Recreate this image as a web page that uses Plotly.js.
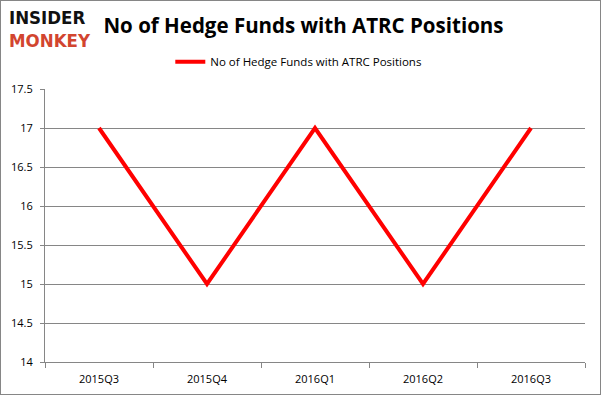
<!DOCTYPE html>
<html>
<head>
<meta charset="utf-8">
<script src="https://cdn.plot.ly/plotly-3.0.1.min.js"></script>
<style>
html,body{margin:0;padding:0;background:#fff;}
#chart{width:601px;height:395px;box-sizing:border-box;border:1px solid #868686;}
</style>
</head>
<body>
<div id="chart"></div>
<script>
const quarters = ["2015Q3","2015Q4","2016Q1","2016Q2","2016Q3"];
const hedgeFunds = [17, 15, 17, 15, 17];
const seriesName = "No of Hedge Funds with ATRC Positions";
const titleText = "No of Hedge Funds with ATRC Positions";

const font = "Open Sans, Liberation Sans, sans-serif";
const trace = {
  x: quarters, y: hedgeFunds, type: "scatter", mode: "lines",
  name: seriesName,
  line: {color: "#ff0000", width: 4}
};
const layout = {
  width: 599, height: 393,
  margin: {l: 44, r: 15, t: 88, b: 32},
  paper_bgcolor: "#fff", plot_bgcolor: "#fff",
  font: {family: font, size: 11, color: "#000"},
  title: {text: "<b>" + titleText + "</b>", x: 0.505, xanchor: "center", y: 0.936, yanchor: "middle",
          font: {family: "Open Sans, sans-serif", size: 20.5, color: "#000"}},
  showlegend: true,
  legend: {orientation: "h", x: 0.47, xanchor: "center", y: 1.10, yanchor: "middle",
           font: {size: 11.5, color: "#000"}, itemwidth: 30},
  xaxis: {type: "category", showgrid: false, showline: true, linecolor: "#868686", linewidth: 1,
          ticks: "outside", tickson: "boundaries", ticklen: 5, tickcolor: "#868686",
          ticklabelstandoff: 7,
          range: [-0.5, 4.5], fixedrange: true, zeroline: false},
  yaxis: {range: [14, 17.5], dtick: 0.5, showgrid: true, gridcolor: "#868686", gridwidth: 1,
          showline: true, linecolor: "#868686", ticks: "outside", ticklen: 4, tickcolor: "#868686",
          ticklabelstandoff: 5,
          zeroline: false, fixedrange: true},
  annotations: [
    {xref: "paper", yref: "paper", x: -0.071, y: 1.262, xanchor: "left", yanchor: "middle", showarrow: false,
     text: "<b>INSIDER</b>", font: {family: "DejaVu Sans Condensed, DejaVu Sans, sans-serif", size: 18.5, color: "#111"}},
    {xref: "paper", yref: "paper", x: -0.071, y: 1.178, xanchor: "left", yanchor: "middle", showarrow: false,
     text: "<b>MONKEY</b>", font: {family: "DejaVu Sans Condensed, DejaVu Sans, sans-serif", size: 18.5, color: "#d2452f"}}
  ]
};
Plotly.newPlot("chart", [trace], layout, {displayModeBar: false, staticPlot: true});
</script>
</body>
</html>
